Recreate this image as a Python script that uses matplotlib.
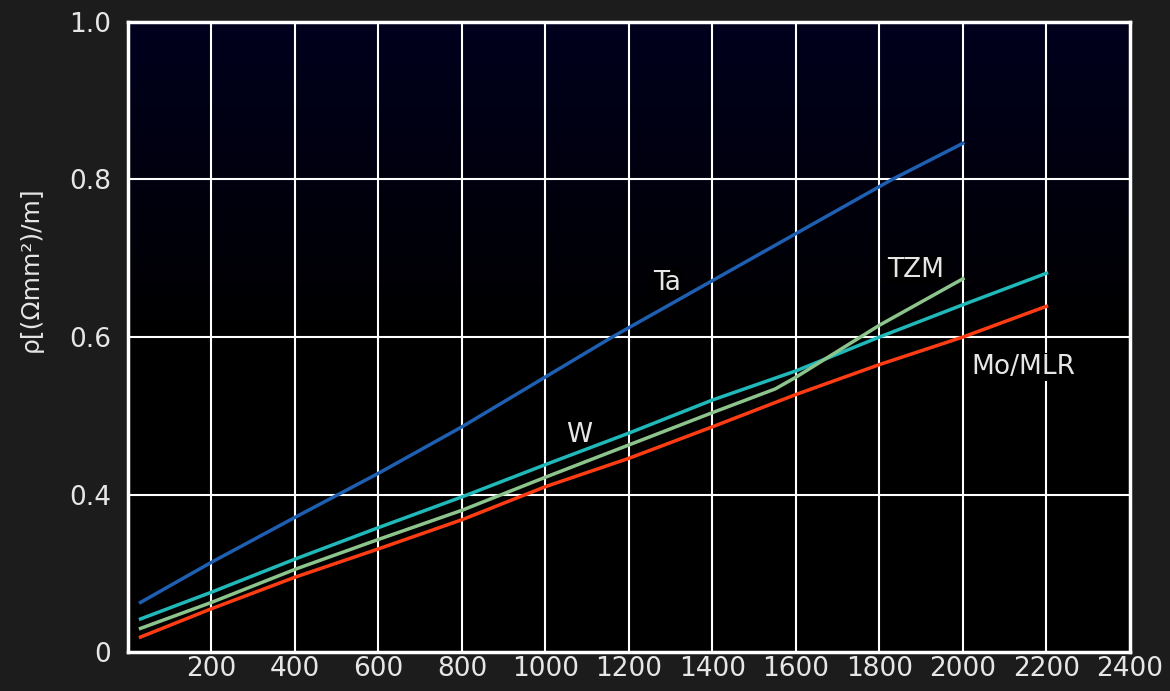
import numpy as np
import matplotlib
matplotlib.use("Agg")
import matplotlib.pyplot as plt
from matplotlib.colors import LinearSegmentedColormap

# temperature (°C) and resistivity readings
# (the bottom of the y axis is labelled "0" but sits where 0.2 would be)
ta_x = [30, 200, 400, 600, 800, 1160, 1830, 2000]
ta_y = [0.263, 0.314, 0.371, 0.427, 0.486, 0.600, 0.800, 0.846]

w_x = [30, 200, 400, 600, 800, 1000, 1200, 1400, 1600, 1800, 2000, 2200]
w_y = [0.242, 0.276, 0.318, 0.358, 0.397, 0.438, 0.478, 0.520, 0.557, 0.600, 0.641, 0.681]

tzm_x = [30, 200, 400, 600, 800, 1000, 1200, 1400, 1550, 1600, 1800, 2000]
tzm_y = [0.230, 0.263, 0.305, 0.343, 0.380, 0.422, 0.463, 0.504, 0.534, 0.549, 0.615, 0.674]

mo_x = [30, 200, 400, 600, 800, 1000, 1200, 1400, 1600, 1800, 2000, 2200]
mo_y = [0.219, 0.255, 0.295, 0.331, 0.368, 0.410, 0.446, 0.486, 0.527, 0.565, 0.600, 0.639]

x_ticks = [200, 400, 600, 800, 1000, 1200, 1400, 1600, 1800, 2000, 2200, 2400]
y_ticks = [0.2, 0.4, 0.6, 0.8, 1.0]
y_tick_labels = ['0', '0.4', '0.6', '0.8', '1.0']

txt = '#e6e6e6'

fig = plt.figure(figsize=(11.7, 6.91), dpi=100, facecolor='#1c1c1c')
ax = fig.add_axes([0.1094, 0.0564, 0.8564, 0.9118])

# dark navy to black background inside the plot
cmap = LinearSegmentedColormap.from_list('bg', [(0, '#000000'), (0.5, '#000000'), (1, '#01011e')])
grad = np.linspace(0, 1, 256).reshape(-1, 1)
ax.imshow(grad, cmap=cmap, aspect='auto', origin='lower',
          extent=[0, 2400, 0.2, 1.0], zorder=0)

ax.set_xlim(0, 2400)
ax.set_ylim(0.2, 1.0)

for xv in x_ticks[:-1]:
    ax.axvline(xv, color='white', lw=1.5, zorder=1)
for yv in y_ticks[1:-1]:
    ax.axhline(yv, color='white', lw=1.5, zorder=1)

ax.plot(ta_x, ta_y, color='#1f5fb2', lw=2.5, zorder=3)
ax.plot(mo_x, mo_y, color='#ff3c12', lw=2.5, zorder=3)
ax.plot(tzm_x, tzm_y, color='#8cc48c', lw=2.5, zorder=4)
ax.plot(w_x, w_y, color='#20b8b8', lw=2.5, zorder=3)

# labels sit on a black patch that hides the grid, lines stay on top
lab = dict(color=txt, fontsize=19, ha='center', va='center', zorder=2,
           bbox=dict(facecolor='black', edgecolor='none', pad=1))
ax.text(1290, 0.669, 'Ta', **lab)
ax.text(1886, 0.685, 'TZM', **lab)
ax.text(2144, 0.562, 'Mo/MLR', **lab)
ax.text(1080, 0.476, 'W', **lab)

ax.set_xticks(x_ticks)
ax.set_xticklabels([str(v) for v in x_ticks])
ax.set_yticks(y_ticks)
ax.set_yticklabels(y_tick_labels)
ax.tick_params(length=0, colors=txt, labelsize=19)
ax.tick_params(axis='x', pad=3)
ax.tick_params(axis='y', pad=12)

for s in ax.spines.values():
    s.set_color('white')
    s.set_linewidth(2.5)

fig.text(0.026, 0.61, 'ρ[(Ωmm²)/m]', rotation=90, color=txt,
         fontsize=18, ha='center', va='center')

fig.savefig('out.png', dpi=100, facecolor=fig.get_facecolor())
